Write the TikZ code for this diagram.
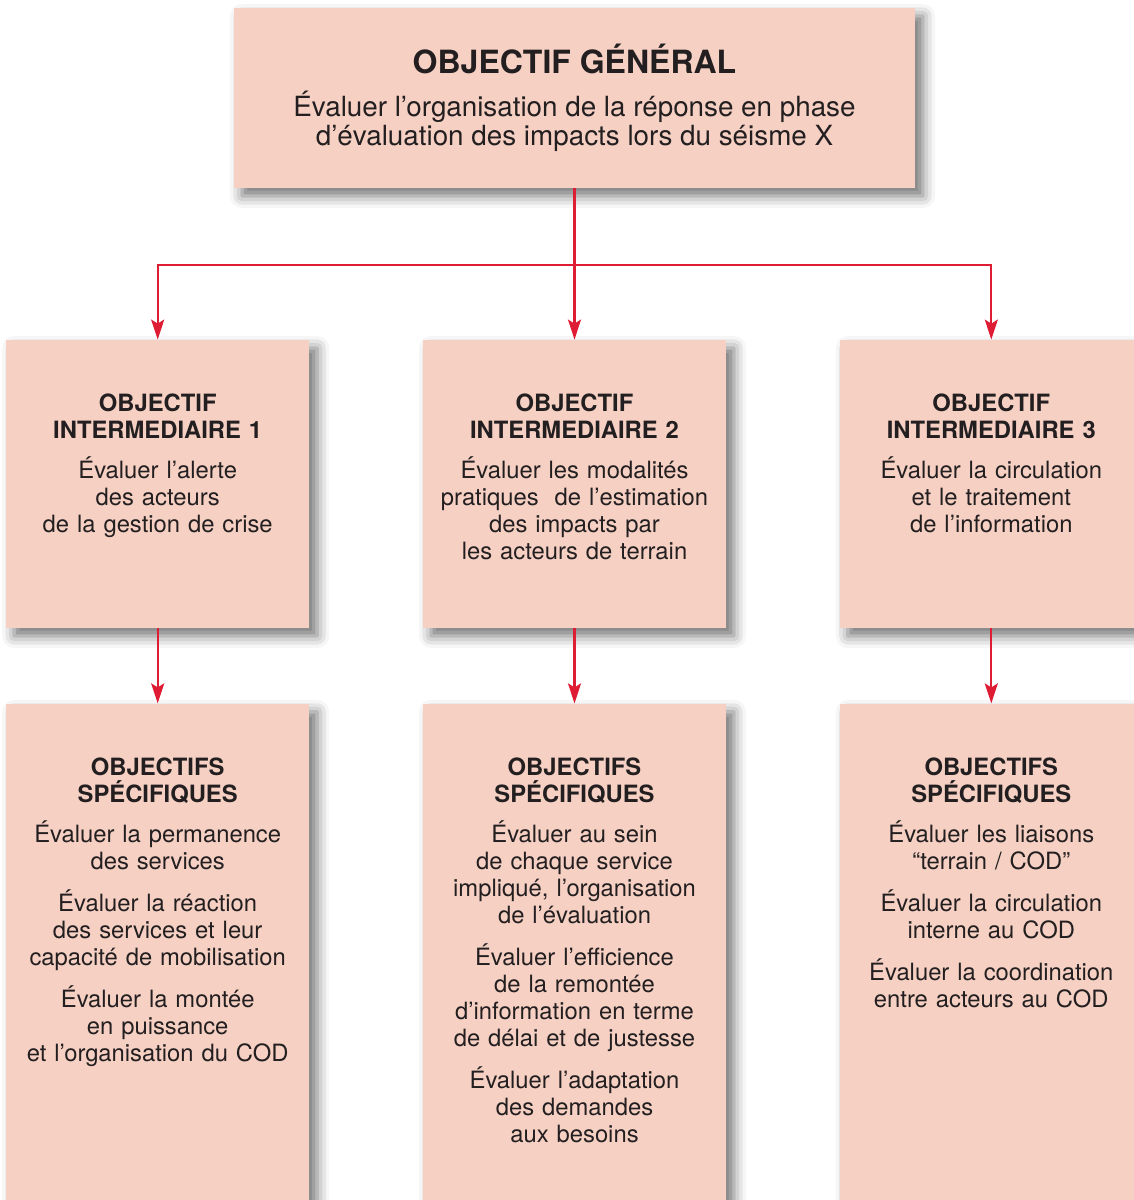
\documentclass[tikz,border=0pt]{standalone}
\usepackage{fontspec}
\setmainfont{TeX Gyre Heros}
\usepackage{tikz}
\usetikzlibrary{positioning, arrows.meta, calc, shadows.blur}
\definecolor{boxpink}{RGB}{245, 208, 195}
\definecolor{arrowred}{RGB}{222, 28, 52}
\definecolor{inkgray}{RGB}{35, 31, 32}

\begin{document}
\begin{tikzpicture}[x=0.5pt, y=-0.5pt, >={Stealth[length=10pt, width=6.5pt, inset=2pt]},
  objbox/.style={fill=boxpink, draw=none, inner sep=0pt,
    blur shadow={shadow xshift=4pt, shadow yshift=-4pt, shadow blur radius=6pt, shadow opacity=55}},
  boxtext/.style={anchor=north, inner sep=0pt, text width=150pt, align=center, text=inkgray,
    font=\fontsize{11.9}{13.5}\selectfont},
  link/.style={->, draw=arrowred, line width=1.1pt}]
  \useasboundingbox (0,0) rectangle (1134,1200);
  \clip (0,0) rectangle (1134,1200);

  % General objective
  \node[objbox, minimum width=340.5pt, minimum height=90pt, align=center, text=inkgray,
        font=\fontsize{13.9}{14.5}\selectfont] (general) at (574.5,98) {
    {\fontsize{16}{18}\selectfont\bfseries OBJECTIF GÉNÉRAL}\\[7pt]
    Évaluer l’organisation de la réponse en phase\\
    d’évaluation des impacts lors du séisme X
  };

  % Intermediate objectives
  \node[objbox, minimum width=151.5pt, minimum height=144pt] (inter2) at (574.5,484) {};
  \node[objbox, minimum width=151.5pt, minimum height=144pt, left=56.5pt of inter2] (inter1) {};
  \node[objbox, minimum width=151.5pt, minimum height=144pt, right=56.5pt of inter2] (inter3) {};

  % Specific objectives
  \node[objbox, minimum width=151.5pt, minimum height=290pt, below=37.5pt of inter1] (spec1) {};
  \node[objbox, minimum width=151.5pt, minimum height=290pt, below=37.5pt of inter2] (spec2) {};
  \node[objbox, minimum width=151.5pt, minimum height=290pt, below=37.5pt of inter3] (spec3) {};

  % Texts
  \node[boxtext] (inter1txt) at ($(inter1.north)+(0,54)$) {
    \textbf{OBJECTIF\\INTERMEDIAIRE 1}\\[6.5pt]
    Évaluer l’alerte\\des acteurs\\de la gestion de crise};
  \node[boxtext] (inter2txt) at ($(inter2.north)+(0,54)$) {
    \textbf{OBJECTIF\\INTERMEDIAIRE 2}\\[6.5pt]
    Évaluer les modalités\\pratiques\ \ de l’estimation\\des impacts par\\les acteurs de terrain};
  \node[boxtext] (inter3txt) at ($(inter3.north)+(0,54)$) {
    \textbf{OBJECTIF\\INTERMEDIAIRE 3}\\[6.5pt]
    Évaluer la circulation\\et le traitement\\de l’information};

  \node[boxtext] (spec1txt) at ($(spec1.north)+(0,54)$) {
    \textbf{OBJECTIFS\\SPÉCIFIQUES}\\[6.5pt]
    Évaluer la permanence\\des services\\[7.5pt]
    Évaluer la réaction\\des services et leur\\capacité de mobilisation\\[7.5pt]
    Évaluer la montée\\en puissance\\et l’organisation du COD};
  \node[boxtext] (spec2txt) at ($(spec2.north)+(0,54)$) {
    \textbf{OBJECTIFS\\SPÉCIFIQUES}\\[6.5pt]
    Évaluer au sein\\de chaque service\\impliqué, l’organisation\\de l’évaluation\\[7.5pt]
    Évaluer l’efficience\\de la remontée\\d’information en terme\\de délai et de justesse\\[7.5pt]
    Évaluer l’adaptation\\des demandes\\aux besoins};
  \node[boxtext] (spec3txt) at ($(spec3.north)+(0,54)$) {
    \textbf{OBJECTIFS\\SPÉCIFIQUES}\\[6.5pt]
    Évaluer les liaisons\\“terrain / COD”\\[7.5pt]
    Évaluer la circulation\\interne au COD\\[7.5pt]
    Évaluer la coordination\\entre acteurs au COD};

  % Connectors
  \coordinate (split) at (general.south |- 0,265);
  \draw[link] (general.south) -- (inter2.north);
  \draw[link] (split) -| (inter1.north);
  \draw[link] (split) -| (inter3.north);
  \draw[link] (inter1) -- (spec1);
  \draw[link] (inter2) -- (spec2);
  \draw[link] (inter3) -- (spec3);
\end{tikzpicture}
\end{document}
